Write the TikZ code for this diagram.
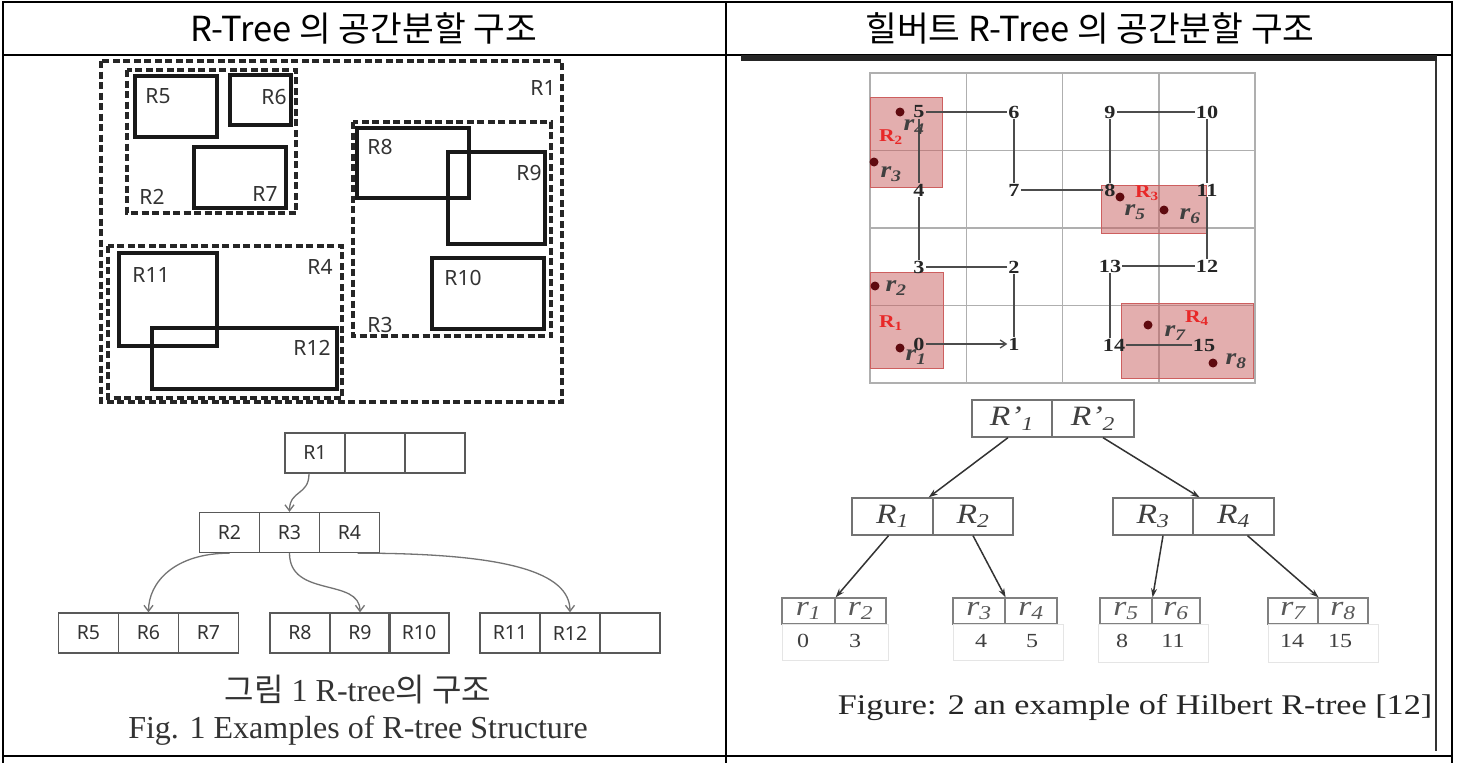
\documentclass[tikz,border=0pt]{standalone}
\usepackage{fontspec}
\usepackage{graphicx}
\setmainfont{Liberation Serif}
\newfontfamily\kr{Noto Sans CJK KR}
\newfontfamily\lsans{Noto Sans}
\usetikzlibrary{arrows.meta}
\newcommand{\hs}[1]{\scalebox{1.2}[1]{#1}}
\newcommand{\fsz}[1]{\fontsize{#1}{#1}\selectfont}
\definecolor{boxfill}{RGB}{200,95,95}
\definecolor{boxedge}{RGB}{205,95,95}
\definecolor{dotc}{RGB}{95,10,15}
\definecolor{redlab}{RGB}{232,40,40}
\definecolor{gridc}{RGB}{175,175,175}
\tikzset{
  tbl/.style={draw=black, line width=2pt},
  hdr/.style={font=\kr\fsz{34.5}, text=black, inner sep=0pt},
  dsh/.style={draw=black!85, line width=3.2pt, dash pattern=on 7pt off 3.5pt},
  sld/.style={draw=black!90, line width=3.2pt},
  llab/.style={font=\lsans\fsz{21}, text=black!80, inner sep=0pt},
  lcell/.style={draw=black!65, line width=1.3pt, minimum width=60pt, minimum height=40pt, inner sep=0pt, font=\lsans\fsz{19.5}, text=black!80},
  larr/.style={draw=black!55, line width=1.3pt, -{Straight Barb[length=6pt,width=9pt]}},
  rcell/.style={draw=black!55, line width=1.3pt, minimum height=37pt, inner sep=0pt, font=\fsz{28}\itshape, text=black!75},
  leaf/.style={draw=black!50, line width=1.2pt, minimum height=26pt, inner sep=0pt, font=\fsz{28}\itshape, text=black!65},
  lnum/.style={font=\fsz{20}, text=black!75, inner sep=0pt},
  faint/.style={draw=black!10, line width=1pt},
  rarr/.style={draw=black!80, line width=1.5pt, -{Stealth[length=9pt,width=6pt]}},
  hnum/.style={font=\bfseries\fsz{18.5}, text=black!85, inner sep=1pt},
  hil/.style={draw=black!70, line width=1.3pt},
  rbox/.style={fill=boxfill, fill opacity=0.5, draw=boxedge, line width=1pt},
  rlab/.style={font=\bfseries\fsz{18}, text=redlab, inner sep=0pt},
  dot/.style={circle, fill=dotc, minimum size=9pt, inner sep=0pt},
  rl/.style={font=\bfseries\itshape\fsz{23}, text=black!75, inner sep=0pt},
}
\begin{document}
\begin{tikzpicture}[x=1pt,y=-1pt]
\useasboundingbox (0,0) rectangle (1466,763);
\fill[white] (0,0) rectangle (1466,763);

% ---------- table ----------
\draw[tbl] (2,2) -- (1453,2);
\draw[tbl] (3,1) -- (3,763);
\draw[tbl] (726,1) -- (726,763);
\draw[tbl] (1452,1) -- (1452,763);
\draw[tbl] (2,55) -- (1453,55);
\draw[tbl] (2,756) -- (1453,756);
\node[hdr] (hl) at (364,28) {R-Tree 의 공간분할 구조};
\node[hdr] (hr) at (1090,28) {힐버트 R-Tree 의 공간분할 구조};

% ---------- left: rectangles ----------
\draw[dsh] (101,61) rectangle (562,402);
\draw[dsh] (127,70) rectangle (296,213);
\draw[dsh] (353,122) rectangle (551,336);
\draw[dsh] (108,246) rectangle (342,398);
\draw[sld] (135,76) rectangle (217,137);
\draw[sld] (230,75) rectangle (291,125);
\draw[sld] (194,147) rectangle (286,208);
\draw[sld] (357,128) rectangle (469,198);
\draw[sld] (448,152) rectangle (545,244);
\draw[sld] (432,258) rectangle (544,329);
\draw[sld] (119,253) rectangle (217,346);
\draw[sld] (152,328) rectangle (337,389);
\node[llab] (lR1) at (543,88) {R1};
\node[llab] (lR2) at (152,197) {R2};
\node[llab] (lR5) at (158,96) {R5};
\node[llab] (lR6) at (274,97) {R6};
\node[llab] (lR7) at (265,194) {R7};
\node[llab] (lR3) at (380,325) {R3};
\node[llab] (lR8) at (380,147) {R8};
\node[llab] (lR9) at (529,173) {R9};
\node[llab] (lR10) at (463,278) {R10};
\node[llab] (lR4) at (320,267) {R4};
\node[llab] (lR11) at (151,275) {R11};
\node[llab] (lR12) at (312,348) {R12};

% ---------- left: tree ----------
\node[lcell] (a1) at (315,453) {R1};
\node[lcell] (a2) at (375,453) {};
\node[lcell] (a3) at (435,453) {};
\node[lcell] (b1) at (229.5,532.5) {R2};
\node[lcell] (b2) at (289.5,532.5) {R3};
\node[lcell] (b3) at (349.5,532.5) {R4};
\node[lcell] (c1) at (88.5,633) {R5};
\node[lcell] (c2) at (148.5,633) {R6};
\node[lcell] (c3) at (208.5,633) {R7};
\node[lcell] (c4) at (300,633) {R8};
\node[lcell] (c5) at (360,633) {R9};
\node[lcell] (c6) at (419,633) {R10};
\node[lcell] (c7) at (510,633) {R11};
\node[lcell] (c8) at (570,633) {R12};
\node[lcell] (c9) at (630,633) {};
\draw[larr] ([xshift=-6pt]a1.south) .. controls +(0,22) and +(0,-22) .. (b2.north);
\draw[larr] (b1.south) .. controls +(-55,0) and +(0,-30) .. (c2.north);
\draw[larr] (b2.south) .. controls +(0,45) and +(0,-35) .. (c5.north);
\draw[larr] ([xshift=8pt]b3.south) .. controls +(150,0) and +(0,-40) .. (c8.north);
\node[font=\fsz{32}, text=black!80, inner sep=0pt] (cap1) at (358,690) {{\kr 그림} 1 R-tree{\kr 의 구조}};
\node[font=\fsz{32}, text=black!80, inner sep=0pt] (cap2) at (358,731) {Fig. 1 Examples of R-tree Structure};

% ---------- right: frame ----------
\fill[black!85] (741,55) rectangle (1437,61);
\draw[black!80, line width=2pt] (1436,61) -- (1436,751);

% ---------- right: grid ----------
\draw[gridc, line width=1.5pt] (870,73) rectangle (1255,383);
\foreach \gx in {966.25,1062.5,1158.75} \draw[gridc, line width=1.5pt] (\gx,73) -- (\gx,383);
\foreach \gy in {150.5,228,305.5} \draw[gridc, line width=1.5pt] (870,\gy) -- (1255,\gy);

% red boxes
\draw[rbox] (870,97) rectangle (942,187);
\draw[rbox] (870,272) rectangle (943,368);
\draw[rbox] (1101,185) rectangle (1206,233);
\draw[rbox] (1121,303) rectangle (1253,378);

% Hilbert order numbers
\node[hnum] (h0) at (919,344) {\hs{0}};
\node[hnum] (h1) at (1014,344) {\hs{1}};
\node[hnum] (h2) at (1014,267) {\hs{2}};
\node[hnum] (h3) at (919,267) {\hs{3}};
\node[hnum] (h4) at (919,190) {\hs{4}};
\node[hnum] (h5) at (919,112) {\hs{5}};
\node[hnum] (h6) at (1014,112) {\hs{6}};
\node[hnum] (h7) at (1014,190) {\hs{7}};
\node[hnum] (h8) at (1110,190) {\hs{8}};
\node[hnum] (h9) at (1110,112) {\hs{9}};
\node[hnum] (h10) at (1207,112) {\hs{10}};
\node[hnum] (h11) at (1207,190) {\hs{11}};
\node[hnum] (h12) at (1207,266) {\hs{12}};
\node[hnum] (h13) at (1110,266) {\hs{13}};
\node[hnum] (h14) at (1114,345) {\hs{14}};
\node[hnum] (h15) at (1204,345) {\hs{15}};
\draw[hil, -{Straight Barb[length=6pt,width=8pt]}] (h0) -- (h1);
\draw[hil] (h1) -- (h2) -- (h3) -- (h4) -- (h5) -- (h6) -- (h7) -- (h8) -- (h9) -- (h10) -- (h11) -- (h12) -- (h13) -- (h13 |- h14.north);
\draw[hil] (h14) -- (h15);

% box labels
\node[rlab] (gR2) at (891,137) {\hs{R\textsubscript{2}}};
\node[rlab] (gR1) at (891,323) {\hs{R\textsubscript{1}}};
\node[rlab] (gR3) at (1147,193) {\hs{R\textsubscript{3}}};
\node[rlab] (gR4) at (1197,318) {\hs{R\textsubscript{4}}};

% points
\node[dot] (d4) at (900,112) {};
\node[dot] (d3) at (874,162) {};
\node[dot] (d2) at (875,286) {};
\node[dot] (d1) at (900,348) {};
\node[dot] (d5) at (1120,197) {};
\node[dot] (d6) at (1164,210) {};
\node[dot] (d7) at (1148,325) {};
\node[dot] (d8) at (1213,363) {};
\node[rl] (r4) at (914,127) {\hs{r\textsubscript{4}}};
\node[rl] (r3) at (891,174) {\hs{r\textsubscript{3}}};
\node[rl] (r2) at (896,288) {\hs{r\textsubscript{2}}};
\node[rl] (r1) at (916,357) {\hs{r\textsubscript{1}}};
\node[rl] (r5) at (1135,212) {\hs{r\textsubscript{5}}};
\node[rl] (r6) at (1190,216) {\hs{r\textsubscript{6}}};
\node[rl] (r7) at (1175,333) {\hs{r\textsubscript{7}}};
\node[rl] (r8) at (1236,361) {\hs{r\textsubscript{8}}};

% ---------- right: tree ----------
\node[rcell, minimum width=80pt] (p1) at (1012,418.5) {\hs{R’\textsubscript{1}}};
\node[rcell, minimum width=82pt] (p2) at (1093,418.5) {\hs{R’\textsubscript{2}}};
\node[rcell, minimum width=81pt] (q1) at (892.5,516.5) {\hs{R\textsubscript{1}}};
\node[rcell, minimum width=80pt] (q2) at (973,516.5) {\hs{R\textsubscript{2}}};
\node[rcell, minimum width=80pt] (q3) at (1153,516.5) {\hs{R\textsubscript{3}}};
\node[rcell, minimum width=81pt] (q4) at (1233.5,516.5) {\hs{R\textsubscript{4}}};
\node[leaf, minimum width=53pt] (s1) at (808.5,611) {\hs{r\textsubscript{1}}};
\node[leaf, minimum width=51pt] (s2) at (860.5,611) {\hs{r\textsubscript{2}}};
\node[leaf, minimum width=52pt] (s3) at (979,611) {\hs{r\textsubscript{3}}};
\node[leaf, minimum width=52pt] (s4) at (1031,611) {\hs{r\textsubscript{4}}};
\node[leaf, minimum width=52pt] (s5) at (1126,611) {\hs{r\textsubscript{5}}};
\node[leaf, minimum width=48pt] (s6) at (1176,611) {\hs{r\textsubscript{6}}};
\node[leaf, minimum width=50pt] (s7) at (1293,611) {\hs{r\textsubscript{7}}};
\node[leaf, minimum width=50pt] (s8) at (1343,611) {\hs{r\textsubscript{8}}};
\draw[faint] (782,624) rectangle (888,660);
\draw[faint] (953,624) rectangle (1063,660);
\draw[faint] (1098,624) rectangle (1208,662);
\draw[faint] (1268,624) rectangle (1378,662);
\node[lnum] (n0) at (803,641) {\hs{0}};
\node[lnum] (n3) at (855,641) {\hs{3}};
\node[lnum] (n4) at (981,641) {\hs{4}};
\node[lnum] (n5) at (1032,641) {\hs{5}};
\node[lnum] (n8) at (1122,641) {\hs{8}};
\node[lnum] (n11) at (1173,641) {\hs{11}};
\node[lnum] (n14) at (1292,641) {\hs{14}};
\node[lnum] (n15) at (1340,641) {\hs{15}};
\draw[rarr] ([xshift=-4pt]p1.south) -- ([xshift=-5pt]q1.north east);
\draw[rarr] ([xshift=10pt]p2.south) -- ([xshift=6pt]q3.north east);
\draw[rarr] ([xshift=-4pt]q1.south) -- (s1.north east);
\draw[rarr] (q2.south) -- (s3.north east);
\draw[rarr] ([xshift=10pt]q3.south) -- (s5.north east);
\draw[rarr] ([xshift=14pt]q4.south) -- (s7.north east);
\node[font=\fsz{28.5}, text=black!85, inner sep=0pt] (cap3) at (1135,708) {\hs{Figure: 2 an example of Hilbert R-tree [12]}};
\end{tikzpicture}
\end{document}
